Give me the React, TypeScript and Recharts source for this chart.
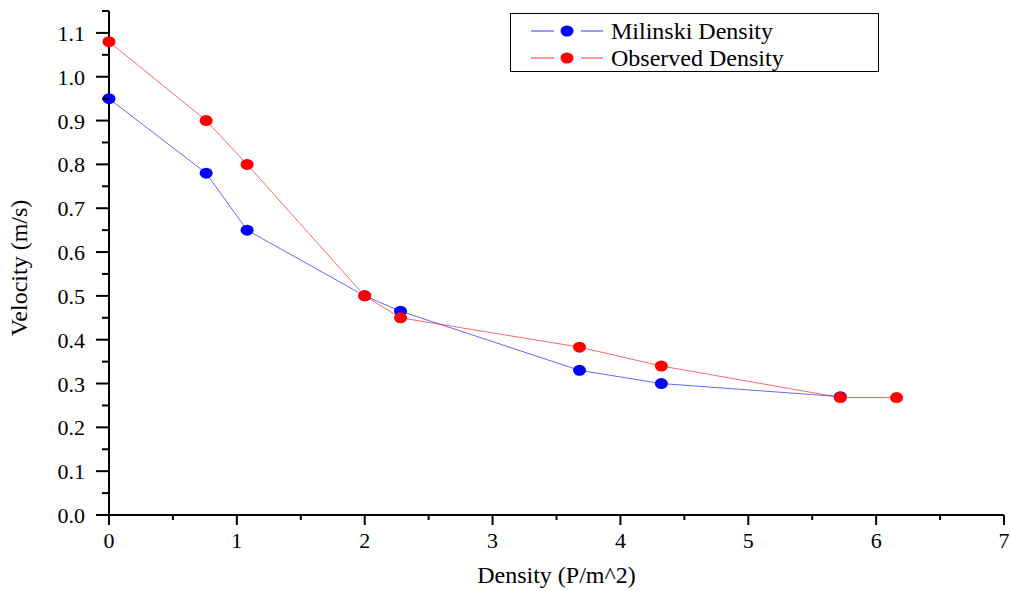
import React from "react";
import { LineChart, Line, XAxis, YAxis } from "recharts";

// Density (P/m^2) vs velocity (m/s)
const MILINSKI_X = [0, 0.76, 1.08, 2.0, 2.28, 3.68, 4.32, 5.72];
const MILINSKI_Y = [0.95, 0.78, 0.65, 0.5, 0.465, 0.33, 0.3, 0.27];
const OBSERVED_X = [0, 0.76, 1.08, 2.0, 2.28, 3.68, 4.32, 5.72, 6.16];
const OBSERVED_Y = [1.08, 0.9, 0.8, 0.5, 0.45, 0.383, 0.34, 0.268, 0.268];

const X_TICKS = [0, 0.5, 1, 1.5, 2, 2.5, 3, 3.5, 4, 4.5, 5, 5.5, 6, 6.5, 7];
const Y_TICKS = [
  0, 0.05, 0.1, 0.15, 0.2, 0.25, 0.3, 0.35, 0.4, 0.45, 0.5, 0.55, 0.6, 0.65,
  0.7, 0.75, 0.8, 0.85, 0.9, 0.95, 1.0, 1.05, 1.1, 1.15,
];

const SERIES = [
  { name: "Milinski Density", color: "#0000ff", xs: MILINSKI_X, ys: MILINSKI_Y },
  { name: "Observed Density", color: "#ff0000", xs: OBSERVED_X, ys: OBSERVED_Y },
];

const FONT = "Liberation Serif, Times New Roman, DejaVu Serif, serif";
const INK = "#000";

const toRows = (xs: number[], ys: number[]) =>
  xs.map((x, i) => ({ x, y: ys[i] }));

function XTick({ x, y, payload }: any) {
  const v = payload.value as number;
  const major = Math.round(v * 10) % 10 === 0;
  return (
    <g>
      <line x1={x} y1={y} x2={x} y2={y + (major ? 10 : 5)} stroke={INK} strokeWidth={2} />
      {major && (
        <text x={x} y={y + 33} textAnchor="middle" fontSize={22} fontFamily={FONT} fill={INK}>
          {v}
        </text>
      )}
    </g>
  );
}

function YTick({ x, y, payload }: any) {
  const v = payload.value as number;
  const major = Math.round(v * 100) % 10 === 0;
  return (
    <g>
      <line x1={x - (major ? 13 : 7)} y1={y} x2={x} y2={y} stroke={INK} strokeWidth={2} />
      {major && (
        <text x={x - 24} y={y + 8} textAnchor="end" fontSize={22} fontFamily={FONT} fill={INK}>
          {v.toFixed(1)}
        </text>
      )}
    </g>
  );
}

const ovalDot = (color: string) => (p: any) =>
  <ellipse key={`${color}-${p.index}`} cx={p.cx} cy={p.cy} rx={6.5} ry={5.5} fill={color} />;

function LegendBox() {
  return (
    <div
      style={{
        position: "absolute",
        left: 510,
        top: 13,
        width: 369,
        height: 59,
        border: "1.5px solid #000",
        boxSizing: "border-box",
        background: "#fff",
        fontFamily: FONT,
        fontSize: 24,
        color: INK,
        paddingTop: 3,
      }}
    >
      {SERIES.map((s) => (
        <div key={s.name} style={{ display: "flex", alignItems: "center", height: 27 }}>
          <svg width={100} height={20} style={{ flex: "none" }}>
            <line x1={20} y1={10} x2={43} y2={10} stroke={s.color} strokeWidth={0.8} />
            <ellipse cx={56} cy={10} rx={6.5} ry={5.5} fill={s.color} />
            <line x1={70} y1={10} x2={92} y2={10} stroke={s.color} strokeWidth={0.8} />
          </svg>
          <span style={{ lineHeight: 1 }}>{s.name}</span>
        </div>
      ))}
    </div>
  );
}

export default function App() {
  return (
    <div style={{ position: "absolute", left: 0, top: 0, width: 1010, height: 591, background: "#fff" }}>
      <LineChart
        width={1010}
        height={591}
        margin={{ top: 11, right: 6, bottom: 0, left: 0 }}
      >
        <XAxis
          type="number"
          dataKey="x"
          domain={[0, 7]}
          ticks={X_TICKS}
          interval={0}
          tickSize={0}
          tickMargin={0}
          tick={<XTick />}
          axisLine={{ stroke: INK, strokeWidth: 2 }}
          height={76}
          allowDuplicatedCategory={false}
          label={{
            value: "Density (P/m^2)",
            position: "insideBottom",
            offset: 8,
            fontSize: 24,
            fontFamily: FONT,
            fill: INK,
          }}
        />
        <YAxis
          type="number"
          domain={[0, 1.15]}
          ticks={Y_TICKS}
          interval={0}
          tickSize={0}
          tickMargin={0}
          tick={<YTick />}
          axisLine={{ stroke: INK, strokeWidth: 2 }}
          width={109}
          allowDataOverflow
          label={{
            content: () => (
              <text
                x={27}
                y={268}
                transform="rotate(-90 27 268)"
                textAnchor="middle"
                fontSize={24}
                fontFamily={FONT}
                fill={INK}
              >
                Velocity (m/s)
              </text>
            ),
          }}
        />
        {SERIES.map((s) => (
          <Line
            key={s.name}
            name={s.name}
            data={toRows(s.xs, s.ys)}
            dataKey="y"
            type="linear"
            stroke={s.color}
            strokeOpacity={0.75}
            strokeWidth={0.8}
            dot={ovalDot(s.color)}
            activeDot={false}
            isAnimationActive={false}
          />
        ))}
      </LineChart>
      <LegendBox />
    </div>
  );
}
